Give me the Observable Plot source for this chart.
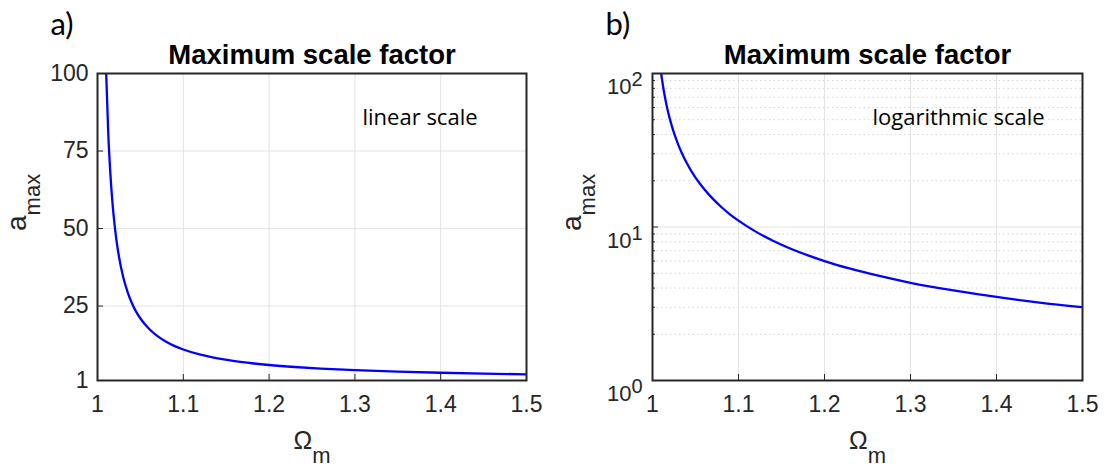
<!DOCTYPE html>
<html>
<head>
<meta charset="utf-8">
<script src="https://cdn.jsdelivr.net/npm/d3@7"></script>
<script src="https://cdn.jsdelivr.net/npm/@observablehq/plot@0.6"></script>
<style>
  html, body { margin: 0; padding: 0; background: white; }
  #row { display: flex; width: 1104px; height: 473px; }
</style>
</head>
<body>
<div id="row"></div>
<script>
// ---- data ----
const omegaM = [1.01, 1.0125, 1.015, 1.0175, 1.02, 1.0225, 1.025, 1.03, 1.035, 1.04, 1.045, 1.05,
                1.06, 1.07, 1.08, 1.09, 1.1, 1.12, 1.14, 1.16, 1.18, 1.2, 1.23, 1.26, 1.3, 1.35, 1.4, 1.45, 1.5];
const aMax   = [101, 81, 67.7, 58.1, 51, 45.4, 41, 34.3, 29.6, 26, 23.2, 21,
                17.7, 15.3, 13.5, 12.1, 11, 9.33, 8.14, 7.25, 6.56, 6, 5.35, 4.85, 4.33, 3.86, 3.5, 3.22, 3];
const xTicks = [1, 1.1, 1.2, 1.3, 1.4, 1.5];
const yTicksLinear = [1, 25, 50, 75, 100];
const yTicksLog = [1, 10, 100];
const yMinorLog = [2, 3, 4, 5, 6, 7, 8, 9, 20, 30, 40, 50, 60, 70, 80, 90];
const panelLetters = ["a)", "b)"];
const titleText = "Maximum scale factor";
const noteTexts = ["linear scale", "logarithmic scale"];
const xLabel = "Ω_m";
const yLabel = "a_max";

const rows = omegaM.map((x, i) => ({x, y: aMax[i]}));

const SVGNS = "http://www.w3.org/2000/svg";
function rich(root) {
  root.querySelectorAll("text").forEach(t => {
    if (t.querySelector("tspan")) return;
    const s = t.textContent;
    let m;
    if ((m = s.match(/^(.+)\^(.+)$/))) {
      t.textContent = m[1];
      t.setAttribute("dy", "0.62em");
      const ts = document.createElementNS(SVGNS, "tspan");
      ts.setAttribute("dy", "-8");
      ts.setAttribute("font-size", "20");
      ts.textContent = m[2];
      t.appendChild(ts);
    } else if ((m = s.match(/^(.+)_(.+)$/))) {
      t.textContent = m[1];
      const ts = document.createElementNS(SVGNS, "tspan");
      ts.setAttribute("dy", "14");
      ts.setAttribute("font-size", "22");
      ts.textContent = m[2];
      t.appendChild(ts);
    }
  });
}

function panel({log, marginLeft, marginRight, letter, note, noteDx}) {
  const W = 552, H = 473, mt = 73, mb = 93;
  const fw = W - marginLeft - marginRight, fh = H - mt - mb;
  const dark = "#262626";
  const marks = [
    Plot.gridX(xTicks, {stroke: "#e3e3e3", strokeOpacity: 1, strokeWidth: 1}),
  ];
  if (log) {
    marks.push(Plot.gridY(yMinorLog, {stroke: "#d4d4d4", strokeOpacity: 1, strokeWidth: 1, strokeDasharray: "1.5,3"}));
    marks.push(Plot.gridY(yTicksLog, {stroke: "#e3e3e3", strokeOpacity: 1, strokeWidth: 1}));
    marks.push(Plot.tickY(yMinorLog, {y: d => d, insetRight: fw - 3, stroke: dark, strokeWidth: 1}));
    marks.push(Plot.tickY(yTicksLog, {y: d => d, insetRight: fw - 6, stroke: dark, strokeWidth: 1}));
  } else {
    marks.push(Plot.gridY(yTicksLinear, {stroke: "#e3e3e3", strokeOpacity: 1, strokeWidth: 1}));
    marks.push(Plot.tickY(yTicksLinear, {y: d => d, insetRight: fw - 6, stroke: dark, strokeWidth: 1}));
  }
  marks.push(Plot.tickX(xTicks, {x: d => d, insetTop: fh - 6, stroke: dark, strokeWidth: 1}));
  marks.push(Plot.line(rows, {x: "x", y: "y", stroke: "#0000ff", strokeWidth: 2.3, curve: "monotone-x", clip: true}));
  marks.push(Plot.frame({stroke: dark, strokeWidth: 2}));
  marks.push(Plot.axisX({ticks: xTicks, tickSize: 0, tickPadding: 15, tickFormat: d => String(d), label: null, fontSize: 23}));
  if (log) {
    marks.push(Plot.axisY({ticks: yTicksLog, tickSize: 0, tickPadding: 10, label: null, fontSize: 22,
      tickFormat: d => "10^" + Math.round(Math.log10(d))}));
  } else {
    marks.push(Plot.axisY({ticks: yTicksLinear, tickSize: 0, tickPadding: 9, label: null, fontSize: 23}));
  }
  // title
  marks.push(Plot.text([titleText], {text: d => d, frameAnchor: "top", dy: -10, lineAnchor: "bottom",
    fontSize: 27.5, fontWeight: "bold", fill: "black"}));
  // panel letter
  marks.push(Plot.text([letter], {text: d => d, frameAnchor: "top-left", dx: -47, dy: -39, lineAnchor: "bottom",
    textAnchor: "start", fontSize: 31, fontFamily: "Lato", fill: "black"}));
  // annotation
  marks.push(Plot.text([note], {text: d => d, frameAnchor: "top-left", dx: noteDx, dy: 51, lineAnchor: "bottom",
    textAnchor: "start", fontSize: 22, fontFamily: "Open Sans", fill: "black"}));
  // axis labels
  marks.push(Plot.text([xLabel], {text: d => d, frameAnchor: "bottom", dy: 68, lineAnchor: "bottom",
    fontSize: 25, fill: dark}));
  marks.push(Plot.text([yLabel], {text: d => d, frameAnchor: "left", dx: -72, dy: 4, rotate: -90, lineAnchor: "bottom",
    fontSize: 28, fill: dark}));

  const p = Plot.plot({
    width: W, height: H,
    marginTop: mt, marginBottom: mb, marginLeft, marginRight,
    style: {background: "white", fontFamily: "Liberation Sans, Arial, sans-serif", fontSize: "23px", color: dark, overflow: "visible"},
    x: {domain: [1, 1.5]},
    y: log ? {type: "log", domain: [1, 100]} : {domain: [1, 100]},
    marks
  });
  rich(p);
  return p;
}

const row = document.getElementById("row");
row.appendChild(panel({log: false, marginLeft: 97, marginRight: 26, letter: panelLetters[0], note: noteTexts[0], noteDx: 265}));
row.appendChild(panel({log: true, marginLeft: 100, marginRight: 22, letter: panelLetters[1], note: noteTexts[1], noteDx: 220}));
</script>
</body>
</html>
